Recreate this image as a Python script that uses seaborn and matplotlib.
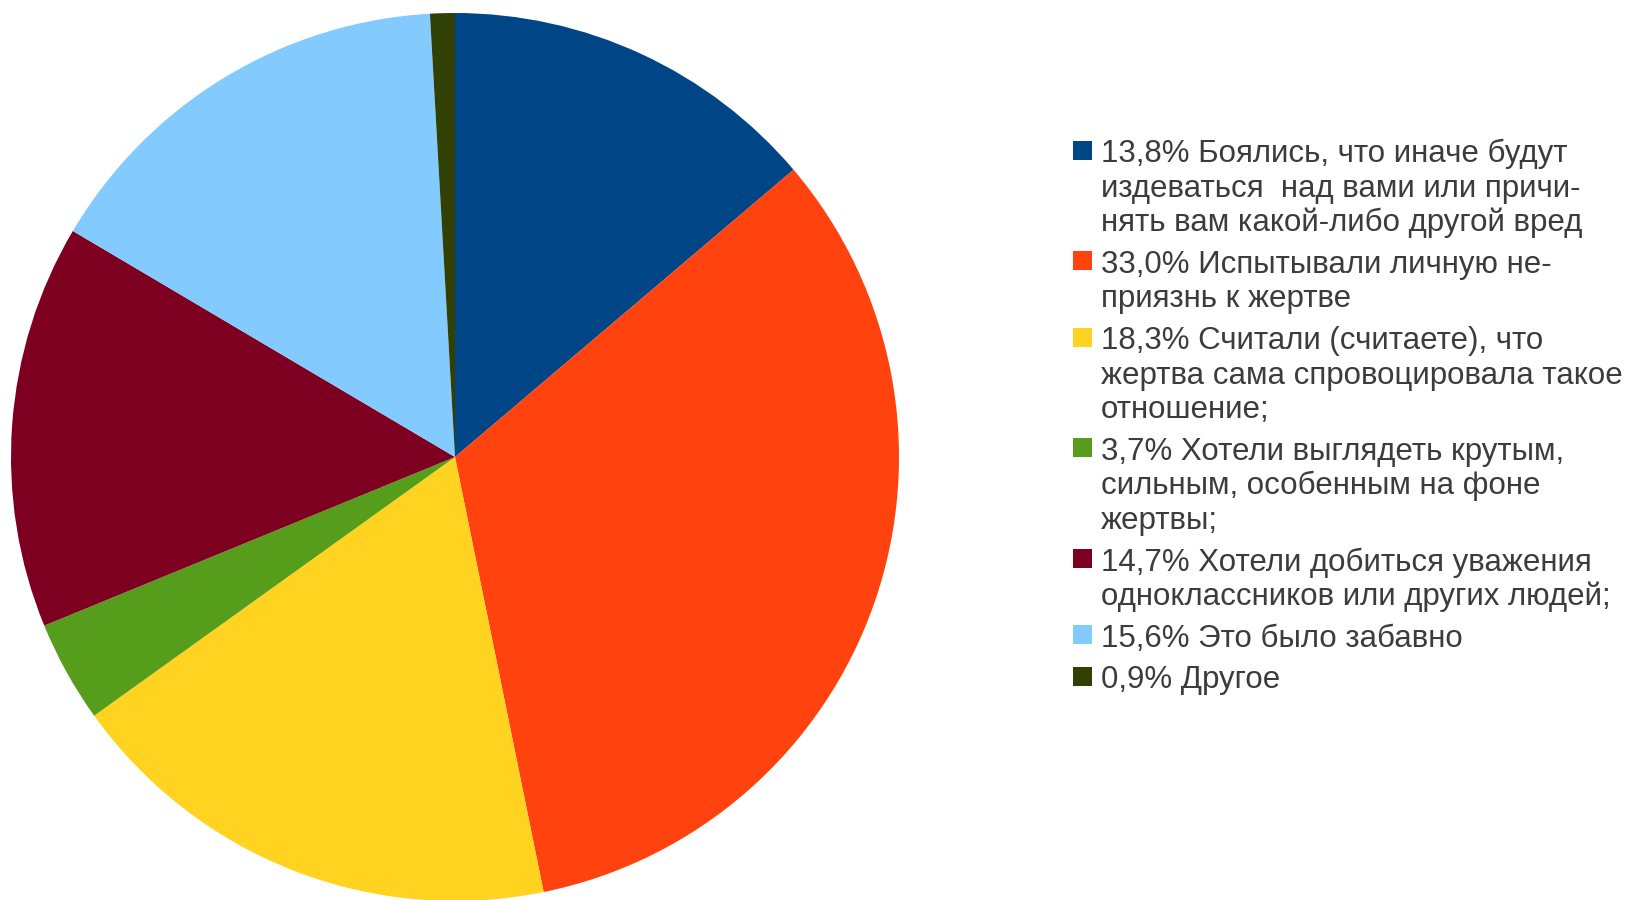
import matplotlib
matplotlib.use("Agg")
import matplotlib.pyplot as plt
import seaborn as sns
from matplotlib.patches import Rectangle

# данные
shares = [13.8, 33.0, 18.3, 3.7, 14.7, 15.6, 0.9]
reasons = [
    "Боялись, что иначе будут\nиздеваться  над вами или причи-\nнять вам какой-либо другой вред",
    "Испытывали личную не-\nприязнь к жертве",
    "Считали (считаете), что\nжертва сама спровоцировала такое\nотношение;",
    "Хотели выглядеть крутым,\nсильным, особенным на фоне\nжертвы;",
    "Хотели добиться уважения\nодноклассников или других людей;",
    "Это было забавно",
    "Другое",
]
colors = ["#004586", "#FF420E", "#FFD320", "#579D1C", "#7E0021", "#83CAFF", "#314004"]

sns.set_style("white")
plt.rcParams["font.family"] = ["Liberation Sans", "DejaVu Sans"]

W, H = 1643, 900
fig = plt.figure(figsize=(W / 100, H / 100), dpi=100)

# пирог
cx, cy, r = 455, 457, 444
ax = fig.add_axes([(cx - r) / W, (H - cy - r) / H, 2 * r / W, 2 * r / H])
ax.pie(shares, colors=colors, startangle=90, counterclock=False,
       radius=1, wedgeprops=dict(linewidth=0))
ax.set_xlim(-1, 1)
ax.set_ylim(-1, 1)
ax.set_aspect("equal")
ax.axis("off")

# легенда вручную: квадратик у первой строки каждого пункта
line_h = 34.6
gap = 7
y = 162  # базовая линия первой строки
for v, txt, c in zip(shares, reasons, colors):
    lines = (f"{v:.1f}%".replace(".", ",") + " " + txt).split("\n")
    fig.patches.append(Rectangle((1073 / W, (H - y + 2.5) / H), 19 / W, 19 / H,
                                 transform=fig.transFigure, facecolor=c,
                                 edgecolor="none"))
    for ln in lines:
        fig.text(1101 / W, (H - y) / H, ln, fontsize=22.5, color="#3c3c3c",
                 va="baseline", ha="left")
        y += line_h
    y += gap

fig.savefig("out.png", dpi=100)
